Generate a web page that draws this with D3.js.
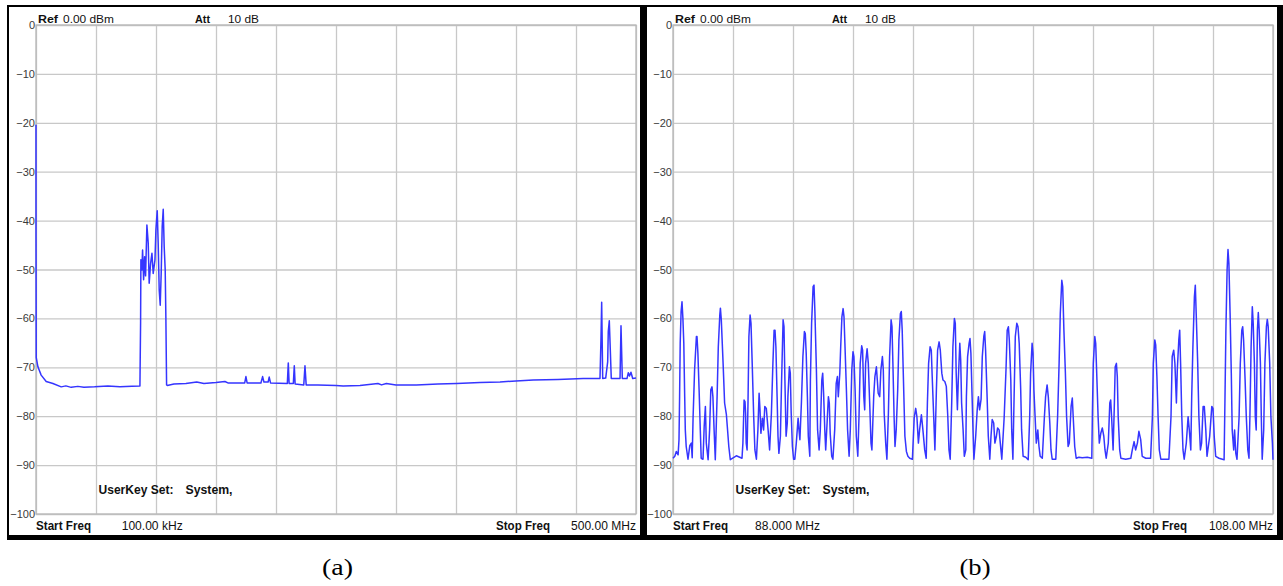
<!DOCTYPE html>
<html>
<head>
<meta charset="utf-8">
<script src="https://cdn.jsdelivr.net/npm/d3@7"></script>
<style>
  body { margin: 0; background: #fff; }
  svg { display: block; }
</style>
</head>
<body>
<div id="wrapper"></div>
<script>
// two spectrum analyser screens: [MHz, dBm]
const yTicks = [0, -10, -20, -30, -40, -50, -60, -70, -80, -90, -100];
const freqSpans = [[0.1, 500], [88, 108]];
const startLabels = ["100.00 kHz", "88.000 MHz"];
const stopLabels = ["500.00 MHz", "108.00 MHz"];
const captions = ["(a)", "(b)"];

// (a) 100 kHz .. 500 MHz
const traceA = [
  [0.1,-20.4],[0.12,-43.3],[0.3,-68],[1.7,-69.9],[4.4,-71.6],[8.6,-72.9],[14.2,-73.3],[21.1,-74.0],
  [25,-73.8],[29.4,-74.1],[35,-73.9],[40,-74.1],[48.9,-74.0],[60,-73.8],[70,-74.0],[80,-73.9],[86.7,-73.8],
  [87.25,-60.7],[87.5,-48.0],[88.33,-50.1],[88.9,-46.0],[89.75,-52.1],[90.6,-47.4],[91.4,-51.3],[92.5,-40.9],
  [93.6,-44.6],[94.4,-52.8],[95.6,-48.7],[96.7,-46.7],[97.75,-50.8],[99.2,-48.1],[100.0,-41.9],[101.1,-38.0],
  [101.9,-44.6],[102.75,-54.2],[103.6,-57.3],[104.4,-50.8],[105.25,-41.2],[106.1,-37.7],[106.9,-45.3],
  [107.75,-50.1],[108.3,-59.7],[108.9,-73.6],[109.5,-73.7],[115,-73.4],[125,-73.3],[134,-73.0],[140,-73.3],
  [150,-73.1],[157.5,-72.9],[160,-73.2],[174,-73.2],[175,-71.9],[176,-73.2],[187.5,-73.2],[188.9,-71.9],
  [190,-73.0],[193.5,-73.0],[194.4,-72.0],[195.5,-73.2],[209.5,-73.3],[210.3,-69.1],[211,-73.3],
  [214.5,-73.3],[215.3,-69.7],[216,-73.4],[223.2,-73.6],[224.2,-69.7],[225.2,-73.6],[235,-73.6],
  [250,-73.7],[256,-73.8],[270,-73.7],[285,-73.3],[288,-73.6],[292,-73.3],[300,-73.6],[317,-73.6],
  [335,-73.4],[350.6,-73.3],[370,-73.1],[386.7,-73.0],[400,-72.8],[414.4,-72.6],[435,-72.5],[456,-72.3],
  [470.0,-72.3],[470.8,-64.4],[471.4,-56.7],[472.25,-72.3],[474.75,-72.2],[476.4,-68.9],[476.9,-62.7],
  [477.75,-60.5],[478.6,-66.5],[479.4,-72.3],[486.7,-72.3],[487.5,-61.5],[488.6,-72.3],[492.5,-72.3],
  [493.6,-71.1],[494.6,-71.8],[495.8,-71.0],[497.25,-72.3],[500,-72.2]
];

// (b) 88 .. 108 MHz
const traceB = [
  [88.00,-88.6],[88.06,-88.2],[88.11,-87.2],[88.17,-87.9],[88.20,-84.8],[88.22,-76.0],[88.24,-65.1],[88.27,-58.6],
  [88.30,-56.6],[88.33,-60.0],[88.36,-65.1],[88.39,-76.0],[88.41,-82.8],[88.44,-86.2],[88.50,-88.8],[88.56,-86.0],
  [88.61,-85.5],[88.64,-88.5],[88.67,-80.1],[88.72,-70.5],[88.78,-63.7],[88.80,-63.7],[88.83,-67.1],[88.87,-74.6],
  [88.91,-82.8],[88.94,-88.6],[89.00,-88.8],[89.04,-82.0],[89.08,-78.0],[89.11,-85.5],[89.17,-88.9],[89.22,-82.8],
  [89.26,-74.6],[89.30,-74.0],[89.33,-76.0],[89.37,-82.8],[89.41,-88.9],[89.47,-76.0],[89.51,-65.8],[89.56,-59.3],
  [89.58,-57.9],[89.61,-60.3],[89.67,-69.2],[89.72,-77.3],[89.78,-79.7],[89.81,-82.1],[89.86,-86.2],[89.91,-88.9],
  [90.11,-88.1],[90.30,-88.6],[90.33,-85.5],[90.37,-76.7],[90.40,-77.0],[90.42,-79.4],[90.44,-85.5],[90.47,-86.9],
  [90.50,-77.3],[90.53,-63.7],[90.57,-59.3],[90.60,-61.0],[90.64,-69.2],[90.69,-80.1],[90.73,-86.9],[90.78,-88.8],
  [90.83,-82.8],[90.87,-75.3],[90.90,-78.7],[90.93,-83.5],[90.98,-80.4],[91.02,-82.8],[91.06,-78.0],[91.11,-78.4],
  [91.17,-82.8],[91.22,-86.9],[91.28,-79.4],[91.33,-69.2],[91.37,-62.4],[91.40,-62.4],[91.43,-65.8],[91.47,-76.0],
  [91.50,-84.1],[91.53,-87.6],[91.58,-84.1],[91.62,-72.6],[91.67,-60.3],[91.70,-61.7],[91.73,-72.6],[91.77,-84.1],
  [91.81,-81.4],[91.83,-76.0],[91.88,-69.9],[91.91,-71.2],[91.94,-79.4],[91.98,-86.2],[92.02,-88.8],[92.06,-88.8],
  [92.11,-85.5],[92.17,-80.4],[92.20,-82.8],[92.23,-84.8],[92.28,-77.3],[92.33,-67.8],[92.38,-62.7],[92.41,-63.1],
  [92.44,-67.1],[92.48,-76.0],[92.51,-84.1],[92.56,-88.2],[92.58,-72.6],[92.62,-61.0],[92.67,-53.5],[92.70,-53.2],
  [92.73,-58.6],[92.78,-70.5],[92.82,-82.8],[92.87,-86.9],[92.91,-82.8],[92.96,-72.6],[92.99,-71.2],[93.02,-75.3],
  [93.06,-82.8],[93.09,-86.9],[93.13,-82.1],[93.18,-76.0],[93.21,-77.3],[93.24,-83.5],[93.29,-88.2],[93.33,-88.8],
  [93.39,-82.8],[93.44,-73.3],[93.48,-71.9],[93.51,-76.0],[93.56,-71.2],[93.59,-65.8],[93.63,-59.7],[93.67,-58.0],
  [93.70,-59.7],[93.73,-65.1],[93.78,-74.6],[93.82,-82.8],[93.87,-88.2],[93.91,-82.8],[93.96,-70.5],[94.00,-66.8],
  [94.03,-67.8],[94.07,-74.6],[94.11,-84.1],[94.16,-88.2],[94.20,-80.1],[94.24,-69.2],[94.29,-65.6],[94.32,-66.5],
  [94.36,-76.0],[94.39,-78.7],[94.42,-69.2],[94.47,-66.2],[94.51,-69.2],[94.56,-78.0],[94.60,-85.5],[94.63,-86.9],
  [94.69,-76.0],[94.73,-71.9],[94.78,-69.9],[94.81,-72.6],[94.84,-75.3],[94.89,-76.0],[94.93,-70.5],[94.98,-67.8],
  [95.01,-70.5],[95.04,-79.4],[95.09,-85.5],[95.13,-88.8],[95.18,-79.4],[95.22,-67.8],[95.27,-60.3],[95.30,-61.7],
  [95.33,-69.2],[95.37,-80.1],[95.40,-86.2],[95.44,-82.8],[95.49,-74.6],[95.53,-64.4],[95.58,-59.0],[95.61,-58.6],
  [95.64,-62.4],[95.69,-74.6],[95.73,-84.1],[95.78,-87.2],[95.83,-88.2],[95.89,-88.6],[95.98,-88.8],[96.04,-80.3],
  [96.09,-78.4],[96.13,-80.1],[96.18,-85.5],[96.22,-82.8],[96.28,-79.7],[96.33,-82.8],[96.39,-86.9],[96.44,-88.6],
  [96.48,-77.3],[96.52,-69.2],[96.57,-65.8],[96.61,-66.5],[96.64,-71.9],[96.69,-80.1],[96.73,-86.9],[96.78,-74.6],
  [96.82,-66.5],[96.87,-64.8],[96.91,-66.5],[96.96,-71.2],[97.00,-72.6],[97.06,-72.9],[97.11,-73.9],[97.16,-80.1],
  [97.20,-86.9],[97.24,-88.8],[97.29,-77.3],[97.33,-65.8],[97.38,-60.0],[97.41,-61.0],[97.44,-71.2],[97.48,-78.7],
  [97.51,-72.6],[97.56,-65.1],[97.59,-68.5],[97.62,-77.3],[97.67,-82.8],[97.71,-88.2],[97.76,-86.9],[97.78,-76.0],
  [97.82,-67.8],[97.87,-65.1],[97.90,-64.1],[97.93,-67.1],[97.97,-76.0],[98.00,-82.8],[98.03,-88.8],[98.09,-84.1],
  [98.14,-78.7],[98.18,-76.0],[98.22,-78.7],[98.27,-76.5],[98.31,-67.8],[98.36,-63.7],[98.39,-62.7],[98.42,-66.5],
  [98.47,-76.0],[98.51,-84.1],[98.56,-88.8],[98.60,-84.1],[98.64,-80.7],[98.69,-81.4],[98.73,-85.5],[98.78,-84.1],
  [98.82,-82.4],[98.87,-82.8],[98.91,-85.5],[98.96,-88.8],[99.04,-80.1],[99.10,-70.5],[99.14,-62.4],[99.18,-61.7],
  [99.21,-64.4],[99.26,-72.6],[99.29,-82.8],[99.33,-88.8],[99.37,-76.0],[99.41,-63.7],[99.46,-61.0],[99.50,-61.7],
  [99.54,-65.1],[99.59,-74.6],[99.62,-82.8],[99.67,-88.2],[99.76,-88.4],[99.84,-88.9],[99.89,-80.1],[99.92,-71.2],
  [99.97,-65.1],[100.00,-67.1],[100.03,-74.6],[100.07,-80.1],[100.11,-85.5],[100.16,-82.8],[100.20,-86.2],[100.24,-88.2],
  [100.31,-88.6],[100.38,-80.1],[100.42,-76.0],[100.47,-73.6],[100.51,-76.0],[100.56,-81.4],[100.60,-86.9],[100.64,-88.8],
  [100.76,-88.8],[100.82,-80.1],[100.87,-69.2],[100.91,-59.0],[100.96,-52.2],[100.99,-53.5],[101.03,-62.4],[101.08,-71.2],
  [101.12,-80.1],[101.17,-86.2],[101.21,-85.5],[101.27,-78.0],[101.31,-76.3],[101.34,-80.1],[101.39,-86.2],[101.44,-88.6],
  [101.53,-88.4],[101.64,-88.5],[101.81,-88.4],[101.96,-88.6],[101.98,-79.4],[102.01,-69.2],[102.06,-63.7],[102.09,-65.1],
  [102.12,-70.5],[102.17,-80.1],[102.21,-85.5],[102.26,-83.5],[102.31,-82.4],[102.36,-84.1],[102.40,-86.9],[102.44,-88.6],
  [102.51,-85.5],[102.56,-77.3],[102.59,-76.7],[102.62,-80.1],[102.67,-86.9],[102.71,-78.0],[102.74,-69.9],[102.78,-69.2],
  [102.81,-71.9],[102.84,-80.1],[102.89,-86.9],[102.93,-88.6],[103.09,-88.8],[103.26,-88.6],[103.31,-86.9],[103.37,-85.2],
  [103.42,-86.9],[103.48,-85.5],[103.53,-83.1],[103.59,-84.8],[103.64,-88.2],[103.76,-88.6],[103.92,-88.6],[103.98,-80.1],
  [104.01,-69.2],[104.06,-64.4],[104.09,-65.4],[104.13,-71.9],[104.17,-80.1],[104.21,-86.9],[104.26,-88.8],[104.53,-88.8],
  [104.60,-80.1],[104.64,-67.8],[104.69,-66.5],[104.73,-69.2],[104.78,-77.3],[104.81,-70.5],[104.86,-64.4],[104.89,-62.4],
  [104.92,-69.2],[104.96,-80.1],[105.00,-86.9],[105.04,-88.8],[105.11,-85.5],[105.17,-80.1],[105.21,-82.8],[105.26,-86.9],
  [105.29,-76.0],[105.33,-65.8],[105.38,-55.6],[105.41,-53.2],[105.44,-59.0],[105.49,-69.2],[105.53,-80.1],[105.58,-86.9],
  [105.62,-85.5],[105.67,-78.0],[105.71,-78.0],[105.76,-82.8],[105.80,-88.2],[105.89,-84.1],[105.96,-78.0],[106.00,-78.4],
  [106.04,-84.1],[106.09,-88.2],[106.20,-88.6],[106.37,-88.9],[106.40,-76.0],[106.43,-62.4],[106.47,-50.1],[106.50,-45.9],
  [106.53,-48.8],[106.57,-59.0],[106.61,-71.2],[106.64,-82.8],[106.69,-86.9],[106.72,-82.8],[106.76,-87.6],[106.80,-88.8],
  [106.87,-80.1],[106.91,-69.2],[106.96,-62.4],[106.99,-61.7],[107.02,-64.4],[107.07,-72.6],[107.11,-80.1],[107.16,-86.9],
  [107.20,-88.6],[107.23,-80.1],[107.27,-65.8],[107.31,-57.6],[107.34,-61.0],[107.38,-69.2],[107.41,-80.1],[107.44,-82.8],
  [107.48,-62.4],[107.51,-58.8],[107.54,-62.4],[107.58,-69.2],[107.61,-80.1],[107.64,-88.8],[107.69,-82.8],[107.73,-69.2],
  [107.78,-61.7],[107.81,-60.2],[107.84,-61.7],[107.89,-69.2],[107.93,-80.1],[107.98,-85.5],[108.00,-88.9]
];

const traces = [traceA, traceB];

const width = 1283;
const height = 586;
const font = "'Liberation Sans', Arial, sans-serif";

// black frames, thicker on the right and bottom
const frames = [
  { x0: 7, x1: 645, innerL: 9, innerR: 640, caption: 337.5 },
  { x0: 645, x1: 1283, innerL: 647, innerR: 1277, caption: 975 }
];
const plotLeft = [36, 673];
const plotW = 600;
const plotTop = 25;
const plotBottom = 514;

const svg = d3.select("#wrapper")
  .append("svg")
  .attr("width", width)
  .attr("height", height);

svg.append("rect").attr("width", width).attr("height", height).attr("fill", "#fff");

// text squeezed to the width it has on the screenshot
const label = (tx, ty, txt, bold, size, len, anchor) => {
  svg.append("text")
    .attr("x", tx).attr("y", ty)
    .attr("font-family", font)
    .attr("font-size", size)
    .attr("font-weight", bold ? "bold" : "normal")
    .attr("text-anchor", anchor || "start")
    .attr("textLength", len)
    .attr("lengthAdjust", "spacingAndGlyphs")
    .attr("fill", "#111")
    .text(txt);
};

const drawPanel = (i) => {
  const f = frames[i];
  const left = plotLeft[i];

  svg.append("rect")
    .attr("x", f.x0).attr("y", 5)
    .attr("width", f.x1 - f.x0).attr("height", 540 - 5)
    .attr("fill", "#000");
  svg.append("rect")
    .attr("x", f.innerL).attr("y", 7)
    .attr("width", f.innerR - f.innerL).attr("height", 535 - 7)
    .attr("fill", "#fff");

  const x = d3.scaleLinear()
    .domain(freqSpans[i])
    .range([left, left + plotW]);

  const y = d3.scaleLinear()
    .domain([-100, 0])
    .range([plotBottom, plotTop]);

  // vertical grid, 10 divisions
  const span = freqSpans[i];
  const xTicks = d3.range(11).map(k => span[0] + k * (span[1] - span[0]) / 10);

  const gx = svg.append("g")
    .attr("transform", `translate(0, ${plotBottom})`)
    .call(d3.axisBottom(x).tickValues(xTicks).tickSize(-(plotBottom - plotTop)).tickFormat(""));
  gx.select(".domain").remove();
  gx.selectAll("line").attr("stroke", "#c8c8c8").attr("stroke-width", 1.3);

  // horizontal grid + dB labels
  const gy = svg.append("g")
    .attr("transform", `translate(${left}, 0)`)
    .call(d3.axisLeft(y).tickValues(yTicks).tickSize(-plotW).tickPadding(1).tickFormat(d3.format("d")));
  gy.select(".domain").remove();
  gy.selectAll("line").attr("stroke", "#c8c8c8").attr("stroke-width", 1.3);
  gy.selectAll("text")
    .attr("font-family", font)
    .attr("font-size", 11)
    .attr("fill", "#3a3a3a");

  svg.append("rect")
    .attr("x", left).attr("y", plotTop)
    .attr("width", plotW).attr("height", plotBottom - plotTop)
    .attr("fill", "none")
    .attr("stroke", "#b8b8b8")
    .attr("stroke-width", 1.3);

  const line = d3.line()
    .x(d => x(d[0]))
    .y(d => y(d[1]));

  svg.append("path")
    .datum(traces[i])
    .attr("d", line)
    .attr("fill", "none")
    .attr("stroke", "#3535ff")
    .attr("stroke-width", 1.5)
    .attr("stroke-linejoin", "round");

  // screen annotations
  label(left + 2, 22.5, "Ref", true, 11.5, 20);
  label(left + 27, 22.5, "0.00 dBm", false, 11, 51);
  label(left + 159, 22.5, "Att", true, 11.5, 15);
  label(left + 192, 22.5, "10 dB", false, 11, 31);

  label(left + 62.5, 494, "UserKey Set:", true, 13, 75);
  label(left + 149.5, 494, "System,", true, 13, 47);

  label(left, 530, "Start Freq", true, 13, 55);
  label(left + (i === 0 ? 85.7 : 82), 530, startLabels[i], false, 12.5, i === 0 ? 61 : 65);
  label(left + plotW - 140, 530, "Stop Freq", true, 13, 54);
  label(left + plotW, 530, stopLabels[i], false, 12.5, i === 0 ? 65 : 64, "end");

  svg.append("text")
    .attr("x", f.caption)
    .attr("y", 575)
    .attr("font-family", "'Liberation Serif', 'Times New Roman', serif")
    .attr("font-size", 24)
    .attr("text-anchor", "middle")
    .attr("textLength", 31)
    .attr("lengthAdjust", "spacingAndGlyphs")
    .attr("fill", "#000")
    .text(captions[i]);
};

drawPanel(0);
drawPanel(1);
</script>
</body>
</html>
